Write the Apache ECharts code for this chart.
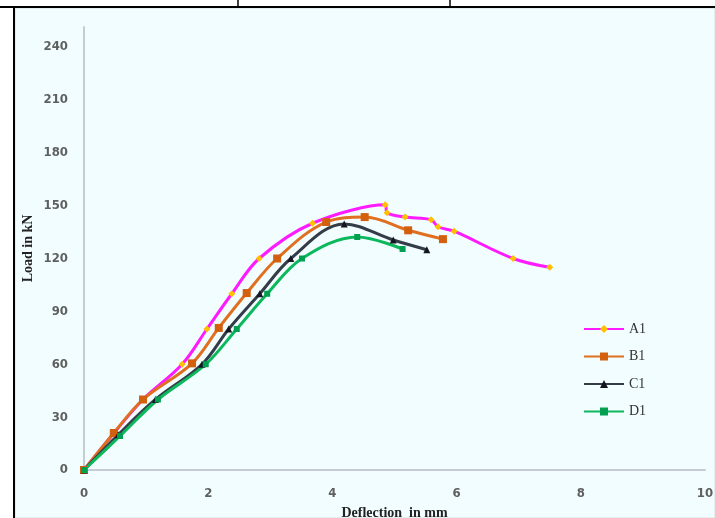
<!DOCTYPE html>
<html>
<head>
<meta charset="utf-8">
<script src="https://cdn.jsdelivr.net/npm/echarts@6/dist/echarts.min.js"></script>
<style>
html,body{margin:0;padding:0;background:#fff;}
#chart{width:715px;height:518px;}
</style>
</head>
<body>
<div id="chart"></div>
<script>
// Data: [deflection (mm), load (kN)]
const seriesNames = ['A1', 'B1', 'C1', 'D1'];
const dataA1 = [[0,0],[0.47,20.4],[0.95,40],[1.58,60],[1.98,80],[2.38,100],[2.82,120],[3.68,140],[4.85,150.5],[4.88,146],[5.17,143.5],[5.59,142],[5.7,138],[5.96,135.5],[6.91,120],[7.5,115]];
const dataB1 = [[0,0],[0.48,21],[0.95,40],[1.74,60.5],[2.17,80.6],[2.62,100.4],[3.11,120],[3.9,140.7],[4.52,143.5],[5.22,136],[5.78,131]];
const dataC1 = [[0,0],[0.55,20],[1.15,40],[1.9,60],[2.33,80],[2.83,100],[3.33,120],[4.19,139.6],[4.98,130.5],[5.52,125]];
const dataD1 = [[0,0],[0.58,19.3],[1.19,40],[1.96,60],[2.46,80],[2.95,100],[3.51,120],[4.4,132.2],[5.13,125.4]];
const xTicks = [0, 2, 4, 6, 8, 10];
const yTicks = [0, 30, 60, 90, 120, 150, 180, 210, 240];

const chart = echarts.init(document.getElementById('chart'), null, {renderer: 'canvas'});
const tickFont = {color: '#5f5f5f', fontFamily: '"Liberation Sans Narrow", "DejaVu Sans Condensed", sans-serif', fontSize: 13, fontWeight: 'bold'};

function mk(name, data, lineColor, symbol, symColor, symSize) {
  return {
    name: name, type: 'line', data: data, smooth: 0.35,
    symbol: symbol, symbolSize: symSize, showSymbol: true,
    lineStyle: {color: lineColor, width: 3},
    itemStyle: {color: symColor, borderWidth: 0},
    emphasis: {disabled: true}
  };
}

chart.setOption({
  animation: false,
  backgroundColor: '#ffffff',
  graphic: [
    {type: 'rect', z: -10, shape: {x: 15, y: 8, width: 700, height: 510}, style: {fill: '#f1fdfe', stroke: '#d6dde0', lineWidth: 1}},
    {type: 'line', z: 10, shape: {x1: 0, y1: 7, x2: 715, y2: 7}, style: {stroke: '#000', lineWidth: 2}},
    {type: 'line', z: 10, shape: {x1: 238, y1: 0, x2: 238, y2: 7}, style: {stroke: '#000', lineWidth: 1.5}},
    {type: 'line', z: 10, shape: {x1: 450, y1: 0, x2: 450, y2: 7}, style: {stroke: '#000', lineWidth: 1.5}},
    {type: 'line', z: 10, shape: {x1: 14, y1: 6, x2: 14, y2: 518}, style: {stroke: '#000', lineWidth: 2}}
  ],
  grid: {left: 84, right: 10, top: 27, bottom: 48, containLabel: false, outerBoundsMode: 'none'},
  legend: {
    orient: 'vertical', left: 578, top: 317, itemWidth: 40, itemHeight: 10, itemGap: 13.5,
    data: seriesNames,
    lineStyle: {width: 2},
    textStyle: {fontFamily: '"Liberation Serif", "DejaVu Serif", serif', fontSize: 14, color: '#333'}
  },
  xAxis: {
    type: 'value', min: xTicks[0], max: xTicks[xTicks.length-1], interval: 2,
    name: 'Deflection  in mm', nameLocation: 'middle', nameGap: 36, nameMoveOverlap: false,
    nameTextStyle: {fontFamily: '"Liberation Serif", "DejaVu Serif", serif', fontWeight: 'bold', fontSize: 14, color: '#222'},
    axisLine: {lineStyle: {color: '#c5ccd3', width: 2}},
    axisTick: {show: false}, splitLine: {show: false},
    axisLabel: Object.assign({margin: 17}, tickFont)
  },
  yAxis: {
    type: 'value', min: yTicks[0], max: 251.35, interval: 30,
    name: 'Load in kN', nameLocation: 'middle', nameGap: 49, nameRotate: 90, nameMoveOverlap: false,
    nameTextStyle: {fontFamily: '"Liberation Serif", "DejaVu Serif", serif', fontWeight: 'bold', fontSize: 14, color: '#222'},
    axisLine: {show: true, lineStyle: {color: '#c5ccd3', width: 2}},
    axisTick: {show: false}, splitLine: {show: false},
    axisLabel: Object.assign({margin: 16, showMaxLabel: false}, tickFont)
  },
  series: [
    mk('A1', dataA1, '#ff1aff', 'diamond', '#ffc000', 7),
    mk('B1', dataB1, '#e0701f', 'rect', '#d2600f', 8),
    mk('C1', dataC1, '#343c48', 'triangle', '#15151f', 7),
    mk('D1', dataD1, '#0cb85c', 'rect', '#00a050', 6)
  ]
});
</script>
</body>
</html>
